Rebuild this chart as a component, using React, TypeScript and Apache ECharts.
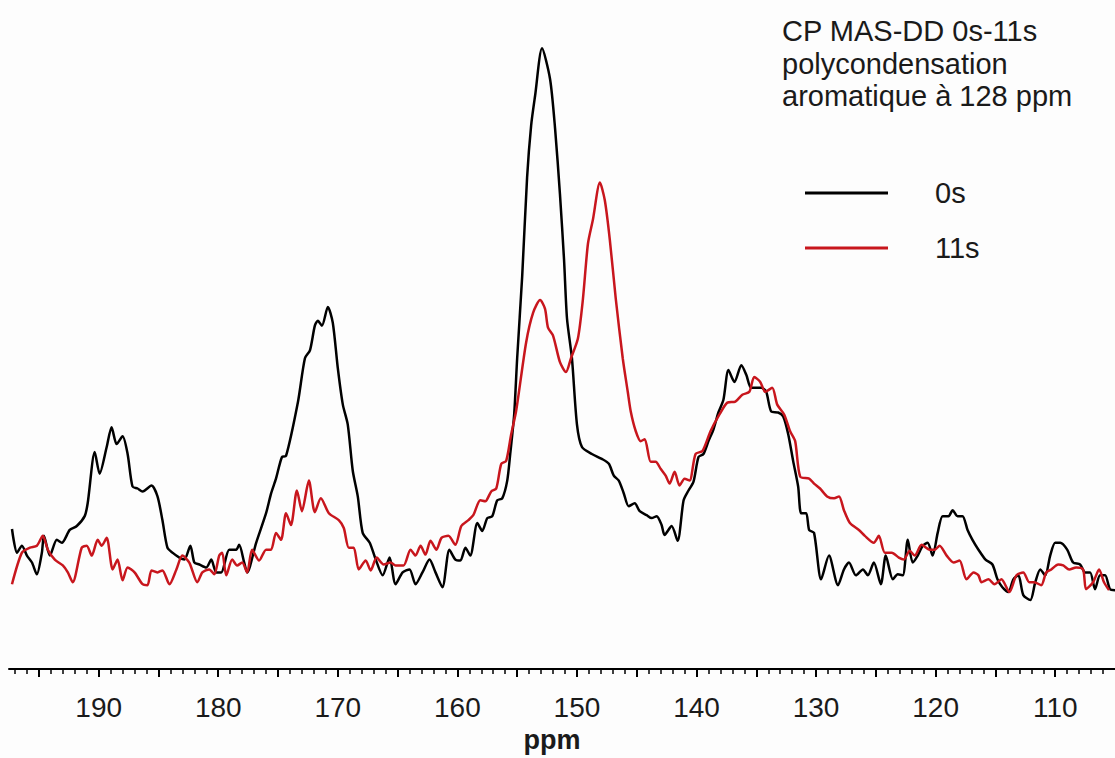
import React, { useEffect, useRef } from "react";
import * as echarts from "echarts";

// [ppm, intensity (a.u.)]
const spectrum0s: [number, number][] = [
  [197.25, 142], [196.83, 118], [196.42, 125], [196.0, 115], [195.58, 108], [195.17, 96], [194.75, 118], [194.58, 135],
  [194.08, 115], [193.5, 131], [193.08, 128], [192.42, 141], [191.83, 145], [191.17, 155], [190.92, 168], [190.33, 220],
  [189.92, 198], [189.33, 225], [188.92, 245], [188.5, 228], [188.0, 236], [187.58, 218], [187.17, 185], [186.75, 183],
  [186.33, 180], [185.58, 186], [185.08, 175], [184.67, 151], [184.25, 123], [183.83, 118], [183.25, 113], [182.83, 111],
  [182.33, 125], [182.0, 108], [181.58, 106], [181.0, 103], [180.58, 111], [180.17, 98], [179.75, 98], [179.08, 121],
  [178.5, 121], [178.25, 126], [177.83, 108], [177.58, 98], [176.83, 128], [176.0, 158], [175.58, 178], [175.17, 193],
  [174.67, 215], [174.33, 216], [173.33, 271], [172.75, 315], [172.33, 323], [171.92, 348], [171.67, 353], [171.33, 348],
  [170.83, 367], [170.42, 351], [170.0, 305], [169.58, 268], [169.17, 248], [168.75, 201], [168.33, 175], [167.92, 138],
  [167.33, 128], [166.83, 111], [166.25, 95], [165.67, 113], [165.17, 86], [164.58, 98], [164.0, 101], [163.5, 86],
  [162.92, 98], [162.33, 111], [161.83, 98], [161.25, 83], [160.67, 121], [160.17, 111], [159.75, 110], [159.33, 123],
  [158.92, 115], [158.33, 148], [157.92, 140], [157.5, 153], [157.08, 155], [156.67, 171], [156.25, 173], [155.83, 191],
  [155.58, 218], [155.25, 258], [155.0, 315], [154.58, 398], [154.17, 498], [153.83, 551], [153.5, 581], [152.92, 629],
  [152.25, 598], [151.83, 548], [151.42, 481], [151.08, 415], [150.83, 355], [150.42, 315], [150.0, 248], [149.58, 225],
  [148.75, 218], [147.92, 213], [147.33, 208], [146.92, 196], [146.5, 191], [146.08, 178], [145.67, 165], [145.17, 168],
  [144.75, 160], [144.17, 156], [143.75, 153], [143.33, 155], [142.92, 146], [142.67, 136], [142.08, 145], [141.58, 130],
  [141.08, 171], [140.67, 181], [140.25, 190], [139.83, 215], [139.42, 218], [139.0, 231], [138.58, 243], [138.17, 260],
  [137.75, 273], [137.33, 303], [136.83, 291], [136.25, 308], [135.83, 298], [135.42, 285], [134.58, 285], [134.17, 281],
  [133.75, 261], [133.17, 260], [132.75, 256], [132.33, 238], [131.92, 211], [131.5, 185], [131.25, 158], [130.83, 158],
  [130.58, 141], [130.17, 138], [129.58, 91], [128.92, 115], [128.17, 85], [127.67, 101], [127.25, 108], [126.67, 95],
  [126.08, 101], [125.67, 95], [125.17, 108], [124.58, 86], [124.17, 115], [123.58, 91], [123.17, 96], [122.75, 95],
  [122.33, 131], [121.92, 108], [121.5, 115], [121.08, 125], [120.67, 128], [120.25, 115], [119.83, 138], [119.42, 155],
  [118.92, 155], [118.58, 161], [118.17, 155], [117.75, 155], [117.33, 141], [116.92, 131], [116.42, 121], [115.83, 111],
  [115.25, 106], [114.83, 91], [114.42, 83], [113.92, 78], [113.5, 91], [113.08, 95], [112.67, 75], [112.08, 70],
  [111.67, 88], [111.25, 101], [110.83, 95], [110.42, 115], [110.0, 128], [109.58, 128], [109.0, 121], [108.5, 108],
  [107.92, 106], [107.5, 98], [107.08, 98], [106.67, 81], [106.25, 95], [105.83, 95], [105.42, 81], [105.0, 80],
];

const spectrum11s: [number, number][] = [
  [197.25, 86], [196.42, 118], [195.75, 123], [195.17, 125], [194.67, 135], [194.25, 121], [193.67, 111], [193.0, 105],
  [192.58, 98], [192.17, 88], [191.42, 123], [191.0, 125], [190.58, 115], [190.08, 131], [189.75, 125], [189.33, 133],
  [188.83, 101], [188.42, 111], [188.0, 90], [187.58, 103], [187.0, 98], [186.33, 86], [185.92, 85], [185.58, 100],
  [185.08, 98], [184.67, 100], [184.08, 86], [183.5, 101], [183.0, 115], [182.42, 108], [181.75, 88], [181.33, 98],
  [180.75, 101], [180.33, 96], [179.92, 115], [179.67, 118], [179.33, 95], [178.83, 111], [178.42, 105], [178.0, 108],
  [177.58, 98], [177.17, 121], [176.58, 110], [176.0, 121], [175.58, 121], [175.17, 138], [174.75, 131], [174.33, 158],
  [173.92, 146], [173.42, 181], [173.0, 160], [172.42, 191], [171.92, 159], [171.42, 173], [170.75, 158], [169.92, 151],
  [169.5, 143], [169.08, 123], [168.67, 123], [168.25, 101], [167.67, 110], [167.25, 100], [166.75, 113], [166.17, 106],
  [165.58, 108], [165.17, 105], [164.5, 105], [163.92, 121], [163.5, 115], [163.08, 125], [162.67, 116], [162.25, 130],
  [161.75, 121], [161.33, 133], [160.75, 135], [160.17, 126], [159.67, 145], [159.08, 151], [158.67, 156], [158.08, 171],
  [157.67, 170], [157.17, 180], [156.75, 183], [156.33, 208], [155.92, 211], [155.5, 238], [155.08, 262], [154.25, 331],
  [153.67, 361], [153.08, 374], [152.67, 365], [152.42, 346], [152.0, 338], [151.42, 311], [150.92, 301], [150.5, 315],
  [149.92, 335], [149.5, 375], [149.08, 431], [148.67, 455], [148.08, 493], [147.67, 475], [147.25, 435], [146.75, 375],
  [146.17, 315], [145.75, 281], [145.5, 261], [145.08, 241], [144.67, 231], [144.33, 233], [143.83, 210], [143.42, 210],
  [143.0, 203], [142.58, 196], [142.25, 188], [141.83, 200], [141.42, 186], [141.0, 193], [140.58, 191], [140.08, 218],
  [139.5, 221], [138.83, 241], [138.08, 258], [137.42, 270], [136.75, 271], [136.17, 278], [135.58, 281], [135.17, 296],
  [134.67, 291], [134.25, 281], [133.67, 285], [133.25, 268], [132.67, 258], [132.17, 241], [131.75, 231], [131.33, 195],
  [130.58, 193], [130.17, 188], [129.67, 183], [129.08, 175], [128.5, 173], [128.08, 175], [127.67, 161], [127.17, 148],
  [126.42, 141], [125.92, 135], [125.17, 128], [124.75, 135], [124.25, 118], [123.67, 118], [123.08, 113], [122.67, 111],
  [122.17, 120], [121.75, 115], [121.17, 126], [120.5, 121], [120.08, 121], [119.67, 125], [119.08, 115], [118.5, 108],
  [118.0, 110], [117.42, 91], [116.83, 98], [116.42, 95], [116.17, 88], [115.58, 91], [115.08, 86], [114.5, 91],
  [113.83, 78], [113.25, 95], [112.67, 98], [112.17, 88], [111.75, 88], [111.17, 85], [110.75, 98], [110.33, 101],
  [109.75, 106], [109.33, 105], [108.83, 101], [108.25, 103], [107.67, 101], [107.42, 81], [106.83, 88], [106.33, 101],
  [105.92, 88], [105.5, 80],
];

const seriesNames = ["0s", "11s"];
const seriesColors = ["#000000", "#c8161d"];
const labelTicks = [110, 120, 130, 140, 150, 160, 170, 180, 190];
const majorTicks = [110, 115, 120, 125, 130, 135, 140, 145, 150, 155, 160, 165, 170, 175, 180, 185, 190, 195];
const minorTicks = [
  106, 107, 108, 109, 111, 112, 113, 114, 116, 117, 118, 119, 121, 122, 123, 124, 126, 127, 128, 129,
  131, 132, 133, 134, 136, 137, 138, 139, 141, 142, 143, 144, 146, 147, 148, 149, 151, 152, 153, 154,
  156, 157, 158, 159, 161, 162, 163, 164, 166, 167, 168, 169, 171, 172, 173, 174, 176, 177, 178, 179,
  181, 182, 183, 184, 186, 187, 188, 189, 191, 192, 193, 194, 196, 197,
];
const titleLines = ["CP MAS-DD 0s-11s", "polycondensation", "aromatique à 128 ppm"];

const FONT = "'Liberation Sans', Arial, Helvetica, sans-serif";
const X_MIN = 105;
const X_MAX = 197.5;

export default function App() {
  const ref = useRef<HTMLDivElement>(null);
  useEffect(() => {
    if (!ref.current) return;
    const chart = echarts.init(ref.current, null, { renderer: "svg" });
    const common = {
      type: "value" as const,
      min: X_MIN,
      max: X_MAX,
      inverse: true,
      position: "bottom" as const,
      splitLine: { show: false },
    };
    chart.setOption({
      animation: false,
      backgroundColor: "#fdfdfd",
      title: {
        text: titleLines.join("\n"),
        left: 777,
        top: 10,
        textStyle: { fontFamily: FONT, fontSize: 29, fontWeight: "normal", lineHeight: 32.5, color: "#1a1a1a" },
      },
      legend: {
        orient: "vertical",
        left: 800,
        top: 173,
        icon: "rect",
        itemWidth: 83,
        itemHeight: 3,
        itemGap: 25,
        data: seriesNames,
        textStyle: { fontFamily: FONT, fontSize: 29, lineHeight: 30, color: "#1a1a1a", padding: [0, 0, 0, 42] },
      },
      grid: { left: 9, right: -4, top: 0, bottom: 80 },
      xAxis: [
        {
          ...common,
          axisLine: { show: true, lineStyle: { color: "#000", width: 2 } },
          axisTick: { show: true, customValues: majorTicks, length: 8, lineStyle: { color: "#000", width: 2 } },
          axisLabel: {
            show: true,
            customValues: labelTicks,
            margin: 24,
            fontFamily: FONT,
            fontSize: 28,
            color: "#1a1a1a",
          },
          name: "ppm",
          nameLocation: "middle",
          nameGap: 53,
          nameTextStyle: { fontFamily: FONT, fontSize: 27, fontWeight: "bold", color: "#1a1a1a", padding: [0, 20, 0, 0] },
        },
        {
          ...common,
          axisLine: { show: false },
          axisTick: { show: true, customValues: minorTicks, length: 5, lineStyle: { color: "#000", width: 1.5 } },
          axisLabel: { show: false },
        },
      ],
      yAxis: { type: "value", min: 0, max: 678, show: false },
      series: [
        {
          name: seriesNames[0],
          type: "line",
          data: spectrum0s,
          symbol: "none",
          smooth: 0.25,
          color: seriesColors[0],
          lineStyle: { color: seriesColors[0], width: 2.5 },
        },
        {
          name: seriesNames[1],
          type: "line",
          data: spectrum11s,
          symbol: "none",
          smooth: 0.25,
          color: seriesColors[1],
          lineStyle: { color: seriesColors[1], width: 2.5 },
        },
      ],
    });
    return () => chart.dispose();
  }, []);
  return (
    <div
      ref={ref}
      style={{ position: "fixed", left: 0, top: 0, width: 1115, height: 758 }}
    />
  );
}
